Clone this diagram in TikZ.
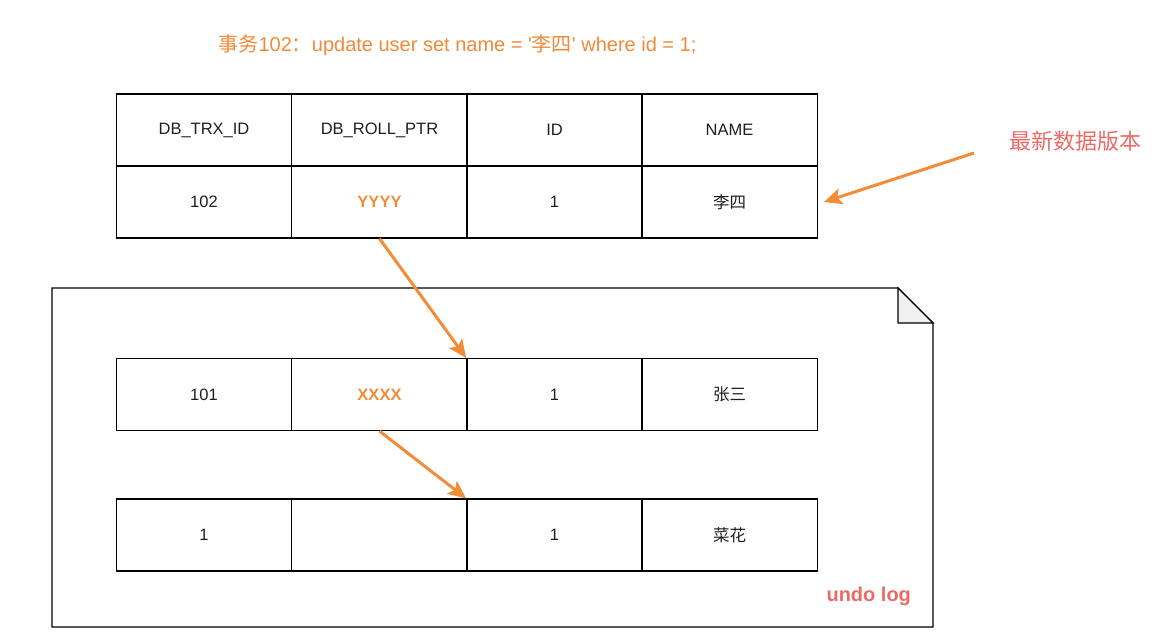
\documentclass[tikz,border=0pt]{standalone}
\usepackage{fontspec}
\setmainfont{Liberation Sans}
\newfontfamily\cjk{Noto Sans CJK SC}
\usetikzlibrary{arrows.meta,calc}
\definecolor{ArrowClr}{RGB}{242,140,56}
\definecolor{TitleClr}{RGB}{240,138,58}
\definecolor{NoteClr}{RGB}{234,107,102}
\definecolor{TextClr}{RGB}{30,30,30}

\begin{document}
\begin{tikzpicture}[x=1pt,y=-1pt,
  cell/.style={draw=black,line width=1.2pt,minimum width=175.5pt,minimum height=72pt,
    inner sep=0pt,text=TextClr,font=\fontsize{16.5}{20}\selectfont},
  ptrcell/.style={cell,text=ArrowClr,font=\fontsize{16.5}{20}\selectfont\bfseries},
  ptr/.style={draw=ArrowClr,line width=3pt,-{Stealth[length=18pt,width=16pt,inset=4pt]}}]
\useasboundingbox (0,0) rectangle (1168,638);

% undo log page
\draw[line width=1.4pt] (52,288) -- (898,288) -- (933,323) -- (933,627) -- (52,627) -- cycle;
\filldraw[line width=1.4pt,fill=gray!12] (898,288) -- (898,323) -- (933,323) -- cycle;

% title
\node[anchor=west,text=TitleClr,font=\fontsize{20}{24}\selectfont] (title) at (215,45)
  {{\cjk 事务}102{\cjk ：}update user set name = \textquotesingle{\cjk 李四}\textquotesingle{} where id = 1;};

% current row
\node[cell] (h1) at (204,130) {DB\_TRX\_ID};
\node[cell] (h2) at (379.5,130) {DB\_ROLL\_PTR};
\node[cell] (h3) at (554.5,130) {ID};
\node[cell] (h4) at (729.5,130) {NAME};
\node[cell] (r1) at (204,202) {102};
\node[ptrcell] (r2) at (379.5,202) {YYYY};
\node[cell] (r3) at (554.5,202) {1};
\node[cell] (r4) at (729.5,202) {\cjk 李四};

% undo log rows
\node[cell] (m1) at (204,394.5) {101};
\node[ptrcell] (m2) at (379.5,394.5) {XXXX};
\node[cell] (m3) at (554.5,394.5) {1};
\node[cell] (m4) at (729.5,394.5) {\cjk 张三};
\node[cell] (b1) at (204,535) {1};
\node[cell] (b2) at (379.5,535) {};
\node[cell] (b3) at (554.5,535) {1};
\node[cell] (b4) at (729.5,535) {\cjk 菜花};

\node[anchor=west,text=NoteClr,font=\fontsize{22}{26}\selectfont\cjk] (latest) at (1006,141) {最新数据版本};
\node[anchor=west,text=NoteClr,font=\fontsize{20}{24}\selectfont\bfseries] (undo) at (823,596) {undo log};

\coordinate (tagtail) at (974,153);
\draw[ptr] (tagtail) -- ([xshift=6pt]r4.east);
\draw[ptr] (r2.south) -- (m3.north west);
\draw[ptr] (m2.south) -- (b3.north west);

\end{tikzpicture}
\end{document}
